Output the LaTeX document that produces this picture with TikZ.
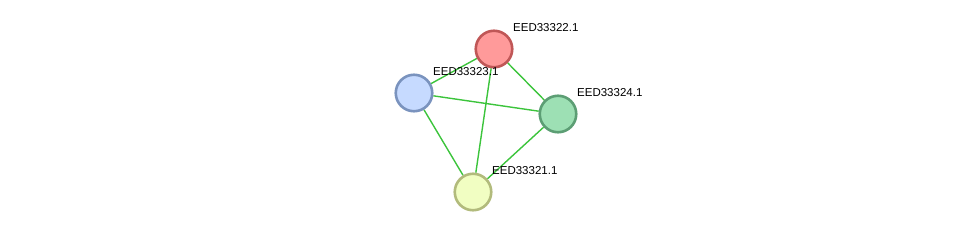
\documentclass[tikz,border=0pt]{standalone}
\usepackage{fontspec}
\setmainfont{Liberation Sans}
\usetikzlibrary{backgrounds}
\definecolor{pRedFill}{HTML}{FF9A9A}
\definecolor{pRedLine}{HTML}{C05757}
\definecolor{pBlueFill}{HTML}{C6DAFF}
\definecolor{pBlueLine}{HTML}{7A93BE}
\definecolor{pGreenFill}{HTML}{9DE0B4}
\definecolor{pGreenLine}{HTML}{5C9E74}
\definecolor{pYellowFill}{HTML}{F1FEC2}
\definecolor{pYellowLine}{HTML}{B2BB7C}
\definecolor{edgeGreen}{HTML}{3CC43C}
\tikzset{
  prot/.style={circle, draw, line width=2.6bp, minimum size=36.5bp, inner sep=0pt},
  protR/.style={prot, fill=pRedFill, draw=pRedLine},
  protB/.style={prot, fill=pBlueFill, draw=pBlueLine},
  protG/.style={prot, fill=pGreenFill, draw=pGreenLine},
  protY/.style={prot, fill=pYellowFill, draw=pYellowLine},
  lbl/.style={anchor=west, inner sep=0pt, xshift=19bp, yshift=21bp, font=\fontsize{11.5bp}{13bp}\selectfont},
  lnk/.style={draw=edgeGreen, line width=1.4bp},
}
\begin{document}
\begin{tikzpicture}[x=1bp, y=1bp]
  \useasboundingbox (0,0) rectangle (976,237);
  % proteins
  \node[protR] (p22) at (494,188) {};
  \node[protB] (p23) at (414,144) {};
  \node[protG] (p24) at (558,123) {};
  \node[protY] (p21) at (473,45) {};
  % links
  \begin{scope}[on background layer]
    \draw[lnk] (p22) -- (p23);
    \draw[lnk] (p22) -- (p24);
    \draw[lnk] (p22) -- (p21);
    \draw[lnk] (p23) -- (p24);
    \draw[lnk] (p23) -- (p21);
    \draw[lnk] (p24) -- (p21);
  \end{scope}
  % names
  \node[lbl] (n22) at (p22.center) {EED33322.1};
  \node[lbl] (n23) at (p23.center) {EED33323.1};
  \node[lbl] (n24) at (p24.center) {EED33324.1};
  \node[lbl] (n21) at (p21.center) {EED33321.1};
\end{tikzpicture}
\end{document}
